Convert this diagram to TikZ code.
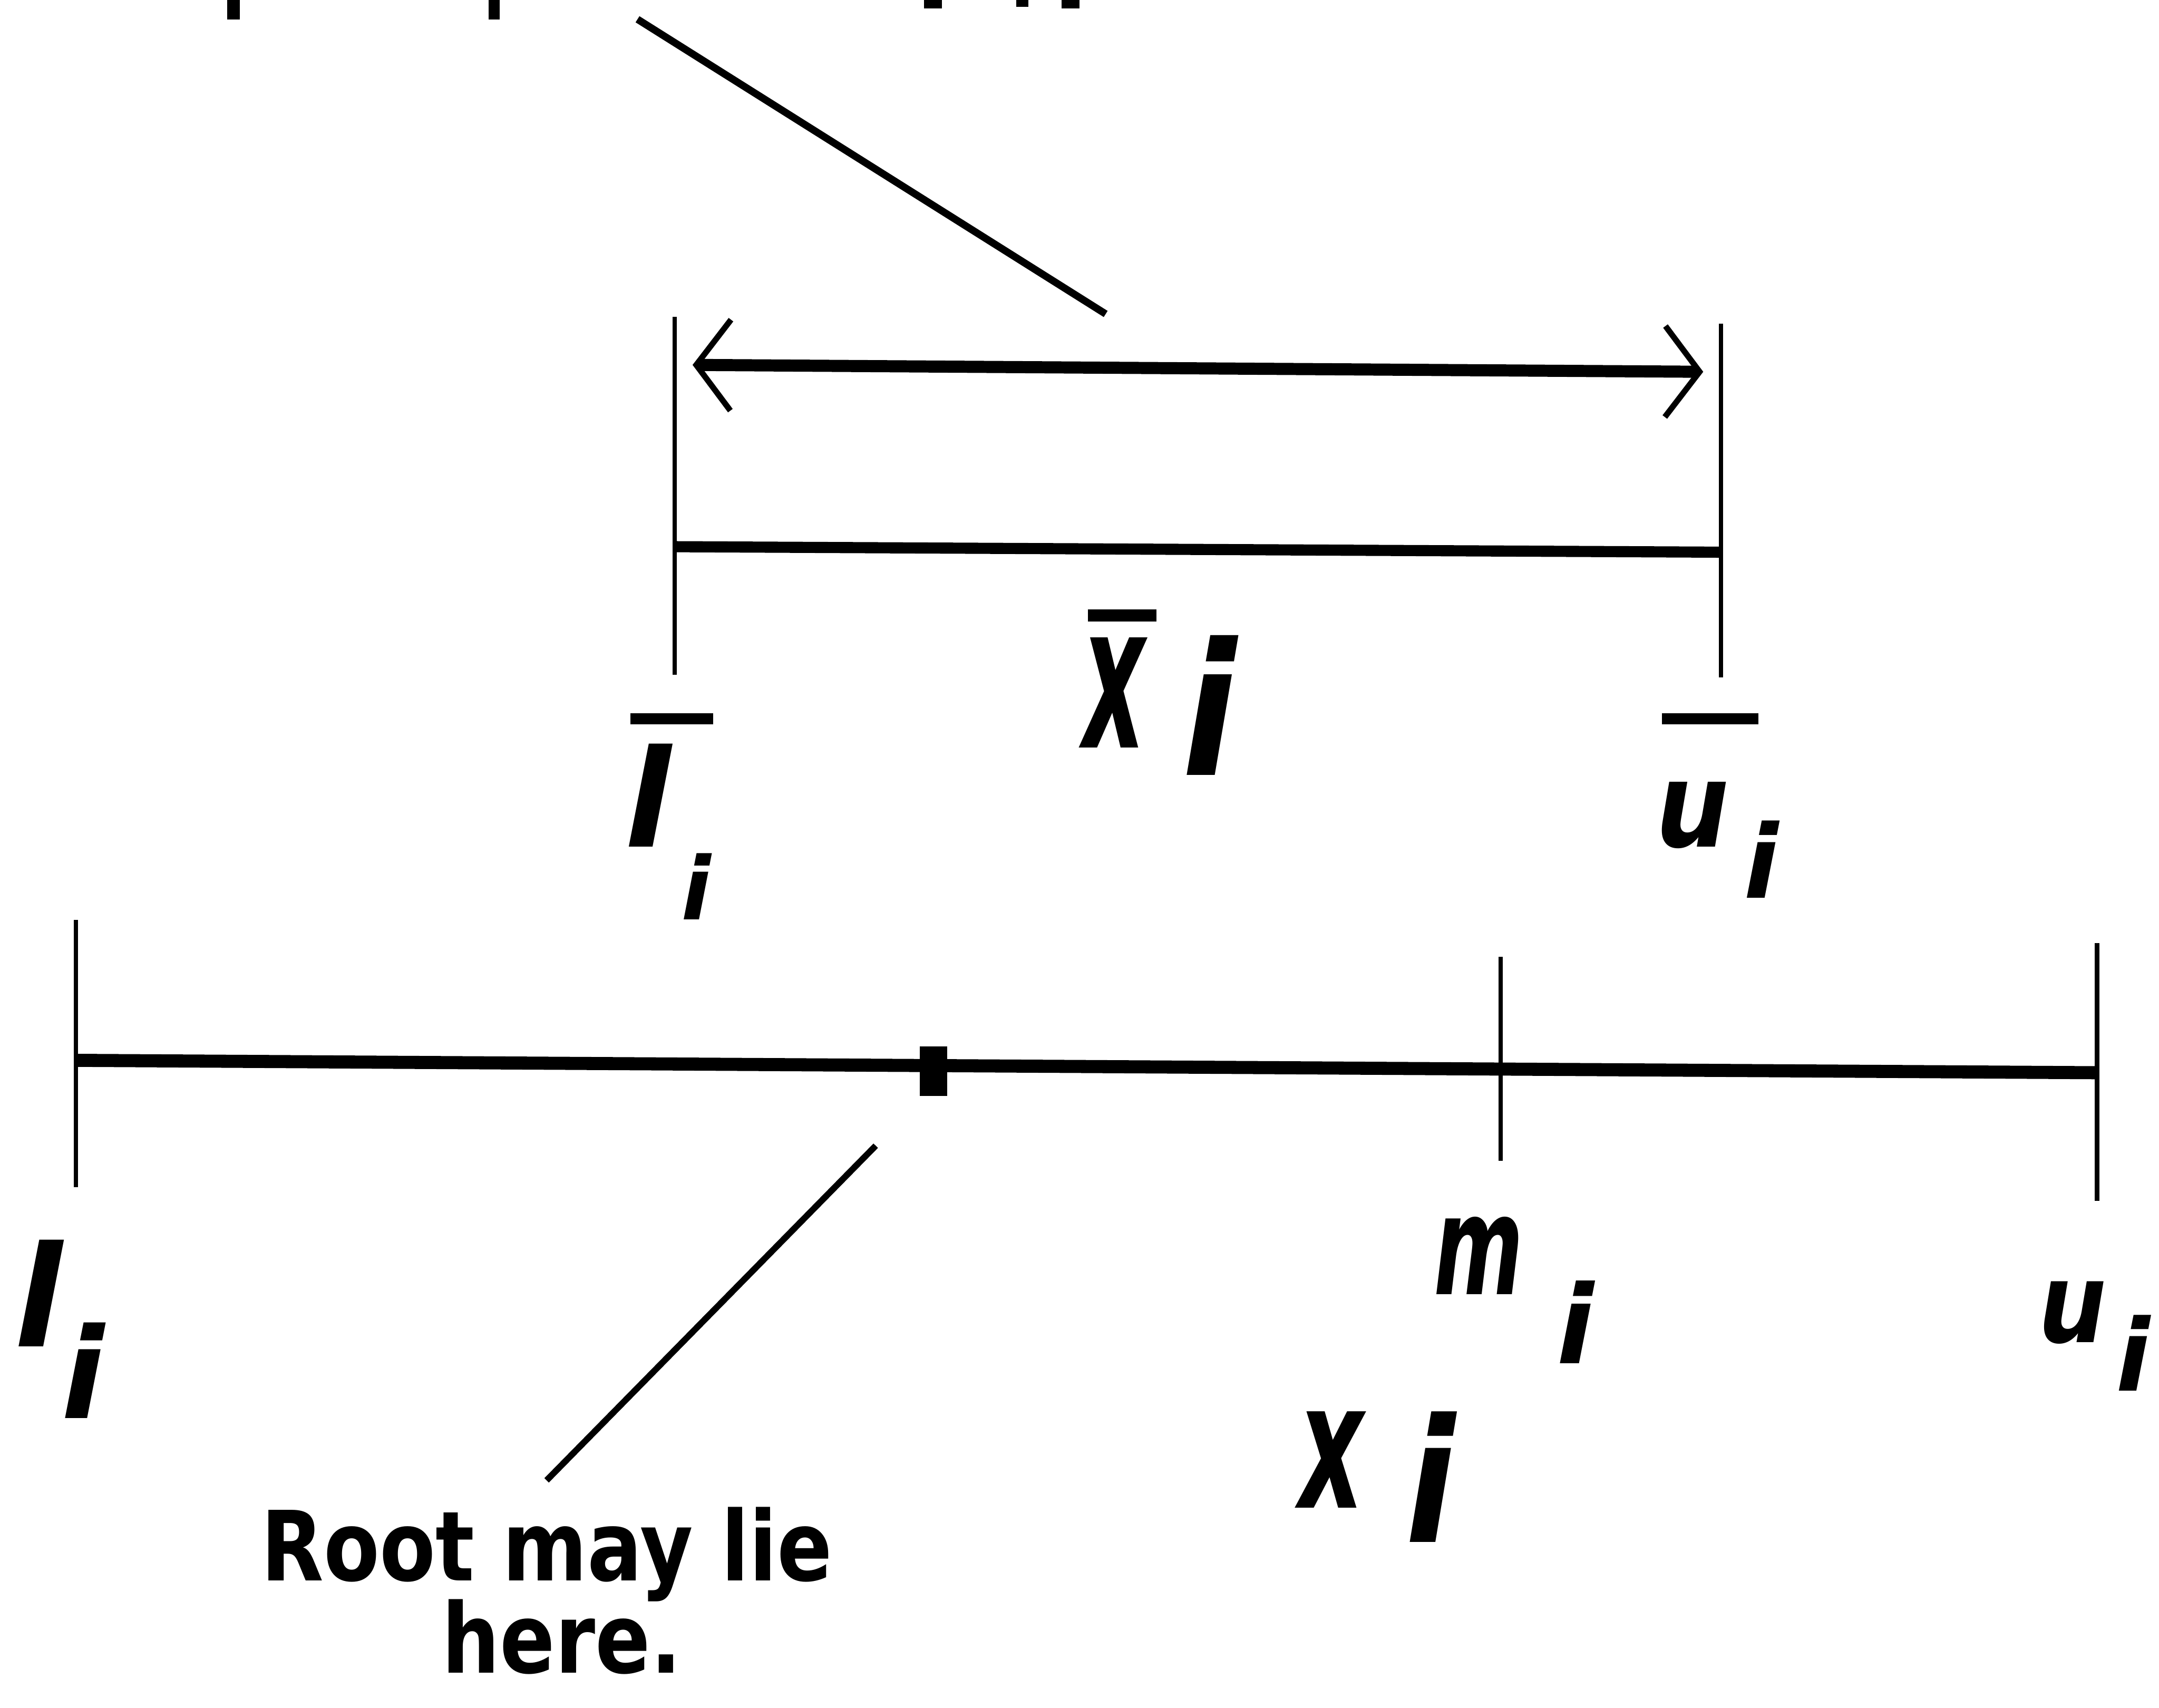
\documentclass[tikz,border=0pt]{standalone}
\usepackage{fontspec}
\setmainfont{DejaVu Sans}
\usetikzlibrary{arrows.meta}
\begin{document}
\begin{tikzpicture}[x=0.01cm,y=-0.01cm,
  tick/.style={line width=0.9pt},
  shaft/.style={line width=2.5pt},
  pointer/.style={line width=1.5pt},
  ovbar/.style={line width=2.2pt},
  lbl/.style={inner sep=0pt, anchor=base west, font=\bfseries\itshape},
  txt/.style={inner sep=0pt, anchor=base, xscale=0.84, font=\bfseries},
  barb/.tip={Straight Barb[length=0.25cm,width=0.66cm,line width=1.2pt]}
]
\useasboundingbox (0,0) rectangle (1568,1240);

% fragments of cut-off text at the top edge
\fill (165,0) rectangle (174,14);
\fill (355,0) rectangle (363,14);
\fill (671,0) rectangle (684,6);
\fill (738,0) rectangle (747,5);
\fill (771,0) rectangle (784,6);

% top pointer
\coordinate (pA) at (463,14);
\coordinate (pB) at (803,228);
\draw[pointer] (pA) -- (pB);

% upper interval
\coordinate (uLt) at (490,230);
\coordinate (uLb) at (490,490);
\coordinate (uRt) at (1250,235);
\coordinate (uRb) at (1250,492);
\draw[tick] (uLt) -- (uLb);
\draw[tick] (uRt) -- (uRb);
\coordinate (aL) at (503,265);
\coordinate (aR) at (1237,270);
\draw[shaft,{barb}-{barb}] (aL) -- (aR);
\coordinate (mL) at (490,397);
\coordinate (mR) at (1250,401);
\draw[line width=2.3pt] (mL) -- (mR);

% x-bar label
\draw[line width=2.5pt] (790,447) -- (840,447);
\node[lbl,xscale=0.48] (xbar) at (786,543) {\fontsize{41.6pt}{41.6pt}\selectfont x};
\node[lbl,xscale=0.87] (xbari) at (858,563) {\fontsize{38pt}{38pt}\selectfont i};

% l-bar label
\draw[ovbar] (458,522) -- (518,522);
\node[lbl] (lbar) at (453,615) {\fontsize{28pt}{28pt}\selectfont l};
\node[lbl] (lbari) at (494,668) {\fontsize{18pt}{18pt}\selectfont i};

% u-bar label
\draw[ovbar] (1207,522) -- (1277,522);
\node[lbl,xscale=0.87] (ubar) at (1202,615) {\fontsize{24.5pt}{24.5pt}\selectfont u};
\node[lbl] (ubari) at (1266,652) {\fontsize{21pt}{21pt}\selectfont i};

% lower interval
\coordinate (bLt) at (55,668);
\coordinate (bLb) at (55,862);
\coordinate (bMt) at (1090,695);
\coordinate (bMb) at (1090,843);
\coordinate (bRt) at (1523,685);
\coordinate (bRb) at (1523,872);
\draw[tick] (bLt) -- (bLb);
\draw[tick] (bMt) -- (bMb);
\draw[tick] (bRt) -- (bRb);
\coordinate (bL) at (55,770);
\coordinate (bR) at (1523,779);
\draw[line width=2.7pt] (bL) -- (bR);
\node[fill,inner sep=0pt,minimum width=0.2cm,minimum height=0.36cm] (rootdot) at (678,778) {};

% lower pointer
\coordinate (qA) at (636,832);
\coordinate (qB) at (397,1075);
\draw[line width=1.3pt] (qA) -- (qB);

% lower labels
\node[lbl] (li) at (10,978) {\fontsize{29pt}{29pt}\selectfont l};
\node[lbl] (lii) at (44,1030) {\fontsize{26pt}{26pt}\selectfont i};
\node[lbl,xscale=0.62] (mi) at (1041,940) {\fontsize{28.6pt}{28.6pt}\selectfont m};
\node[lbl] (mii) at (1130,990) {\fontsize{22.5pt}{22.5pt}\selectfont i};
\node[lbl,xscale=0.86] (ui) at (1480,975) {\fontsize{23pt}{23pt}\selectfont u};
\node[lbl] (uii) at (1536,1010) {\fontsize{20.6pt}{20.6pt}\selectfont i};
\node[lbl,xscale=0.57] (xi) at (943,1095) {\fontsize{36.4pt}{36.4pt}\selectfont x};
\node[lbl,xscale=0.85] (xii) at (1020,1120) {\fontsize{35.5pt}{35.5pt}\selectfont i};

% caption
\node[txt] (root1) at (397,1148) {\fontsize{20pt}{20pt}\selectfont Root may lie};
\node[txt] (root2) at (408,1215) {\fontsize{20pt}{20pt}\selectfont here.};
\end{tikzpicture}
\end{document}
